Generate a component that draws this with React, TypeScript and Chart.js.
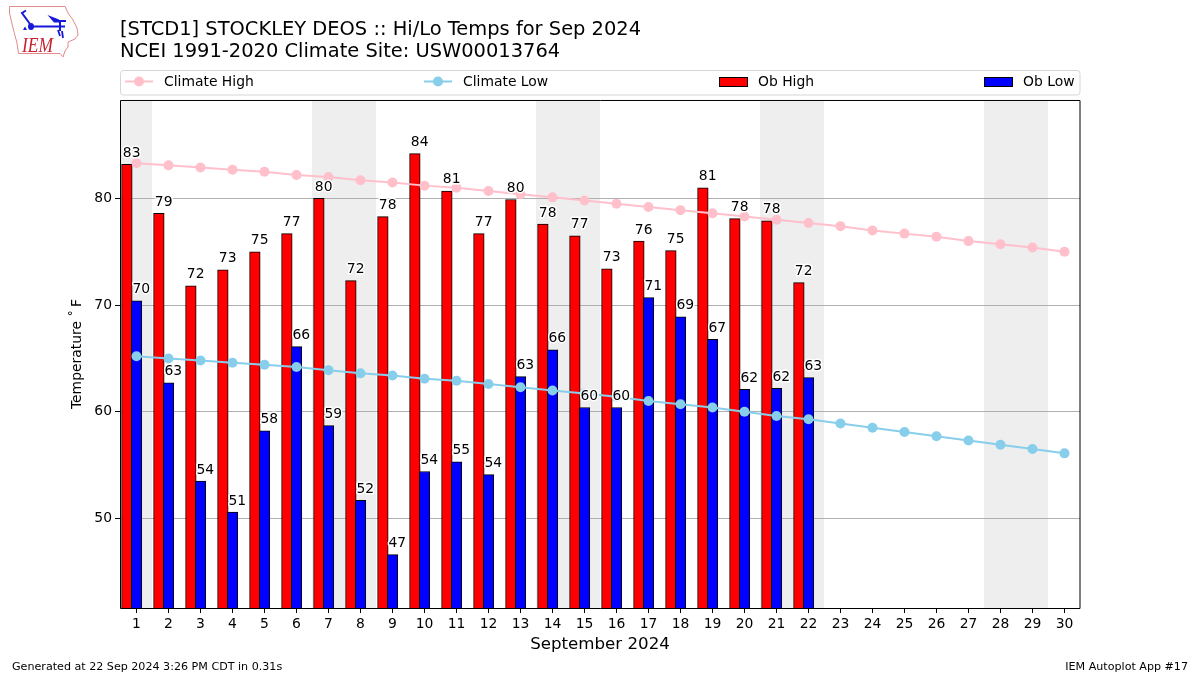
import React, { useEffect, useRef } from "react";
import { Chart, registerables } from "chart.js";

Chart.register(...registerables);

const days = Array.from({ length: 30 }, (_, i) => i + 1);
const obHigh = [83.2, 78.6, 71.8, 73.3, 75, 76.7, 80, 72.3, 78.3, 84.2, 80.7, 76.7, 79.9, 77.6, 76.5, 73.4, 76, 75.1, 81, 78.1, 77.9, 72.1];
const obLow = [70.4, 62.7, 53.5, 50.6, 58.2, 66.1, 58.7, 51.7, 46.6, 54.4, 55.3, 54.1, 63.3, 65.8, 60.4, 60.4, 70.7, 68.9, 66.8, 62.1, 62.2, 63.2];
const climateHigh = [83.3, 83.1, 82.9, 82.7, 82.5, 82.2, 82.0, 81.7, 81.5, 81.2, 81.0, 80.7, 80.4, 80.1, 79.8, 79.5, 79.2, 78.9, 78.6, 78.3, 78.0, 77.7, 77.4, 77.0, 76.7, 76.4, 76.0, 75.7, 75.4, 75.0];
const climateLow = [65.2, 65.0, 64.8, 64.6, 64.4, 64.2, 63.9, 63.6, 63.4, 63.1, 62.9, 62.6, 62.3, 62.0, 61.7, 61.4, 61.0, 60.7, 60.4, 60.0, 59.6, 59.3, 58.9, 58.5, 58.1, 57.7, 57.3, 56.9, 56.5, 56.1];
const yTicks = [50, 60, 70, 80];
const weekendBands = [[0.5, 1.5], [6.5, 8.5], [13.5, 15.5], [20.5, 22.5], [27.5, 29.5]];
const titleLines = ["[STCD1] STOCKLEY DEOS :: Hi/Lo Temps for Sep 2024", "NCEI 1991-2020 Climate Site: USW00013764"];
const xTitle = "September 2024";
const yTitle = "Temperature ˚\u2009F";
const footerLeft = "Generated at 22 Sep 2024 3:26 PM CDT in 0.31s";
const footerRight = "IEM Autoplot App #17";

const FONT = "'DejaVu Sans'";
const HIGH_OFFSET = -0.3;
const LOW_OFFSET = 0;
const LABEL_SHIFT = 0.15;

const bandsPlugin = {
  id: "bands",
  beforeDatasetsDraw(chart: any) {
    const { ctx, chartArea: a, scales: { x } } = chart;
    ctx.save();
    ctx.fillStyle = "#eeeeee";
    weekendBands.forEach(([s, e]) => {
      const l = Math.floor(x.getPixelForValue(s));
      ctx.fillRect(l, a.top, Math.floor(x.getPixelForValue(e)) - l, a.bottom - a.top);
    });
    ctx.restore();
  },
};

const gridPlugin = {
  id: "gridOverBars",
  beforeDatasetDraw(chart: any, args: any) {
    if (args.index !== 0) return;
    const { ctx, chartArea: a, scales: { y } } = chart;
    ctx.save();
    ctx.strokeStyle = "#b0b0b0";
    ctx.lineWidth = 1;
    yTicks.forEach((t) => {
      const p = Math.floor(y.getPixelForValue(t)) + 0.5;
      ctx.beginPath();
      ctx.moveTo(a.left, p);
      ctx.lineTo(a.right, p);
      ctx.stroke();
    });
    ctx.restore();
  },
};

const labelsPlugin = {
  id: "valueLabels",
  afterDatasetsDraw(chart: any) {
    const { ctx, chartArea: a, scales: { x, y } } = chart;
    ctx.save();
    ctx.font = `13.9px ${FONT}`;
    ctx.textAlign = "center";
    ctx.textBaseline = "alphabetic";
    ctx.lineJoin = "round";
    const draw = (vals: number[], shift: number) => {
      vals.forEach((v, i) => {
        const px = x.getPixelForValue(days[i] + shift);
        const py = y.getPixelForValue(v) - 7.5;
        const s = String(Math.round(v));
        ctx.strokeStyle = "#ffffff";
        ctx.lineWidth = 3;
        ctx.strokeText(s, px, py);
        ctx.fillStyle = "#000000";
        ctx.fillText(s, px, py);
      });
    };
    draw(obHigh, -LABEL_SHIFT);
    draw(obLow, LABEL_SHIFT);
    ctx.strokeStyle = "#000000";
    ctx.lineWidth = 1;
    ctx.strokeRect(a.left + 0.5, a.top + 0.5, a.right - a.left - 0.5, a.bottom - a.top);
    ctx.restore();
  },
};

const legendPlugin = {
  id: "expandedLegend",
  afterDraw(chart: any) {
    const { ctx } = chart;
    const ds = chart.data.datasets;
    ctx.save();
    ctx.strokeStyle = "#d5d5d5";
    ctx.lineWidth = 1;
    ctx.beginPath();
    ctx.roundRect(120.5, 70.5, 959.5, 24.5, 3);
    ctx.stroke();
    ctx.font = `13.9px ${FONT}`;
    ctx.textAlign = "left";
    ctx.textBaseline = "alphabetic";
    const entries = [
      { idx: 2, x: 125 },
      { idx: 3, x: 424 },
      { idx: 0, x: 719 },
      { idx: 1, x: 984 },
    ];
    entries.forEach(({ idx, x }) => {
      const d = ds[idx];
      if (d.type === "line") {
        ctx.strokeStyle = d.borderColor;
        ctx.lineWidth = 2;
        ctx.beginPath();
        ctx.moveTo(x, 81.5);
        ctx.lineTo(x + 28, 81.5);
        ctx.stroke();
        ctx.fillStyle = d.borderColor;
        ctx.beginPath();
        ctx.arc(x + 14, 81.5, 5, 0, Math.PI * 2);
        ctx.fill();
      } else {
        ctx.fillStyle = d.backgroundColor;
        ctx.fillRect(x + 0.5, 77.5, 28, 9);
        ctx.strokeStyle = "#000000";
        ctx.lineWidth = 1;
        ctx.strokeRect(x + 0.5, 77.5, 28, 9);
      }
      ctx.fillStyle = "#000000";
      ctx.fillText(d.label, x + 39, 86);
    });
    ctx.restore();
  },
};

export default function App() {
  const ref = useRef<HTMLCanvasElement>(null);
  useEffect(() => {
    const chart = new Chart(ref.current as HTMLCanvasElement, {
      type: "bar",
      data: {
        datasets: [
          {
            type: "bar",
            label: "Ob High",
            data: obHigh.map((v, i) => ({ x: days[i] + HIGH_OFFSET, y: v })),
            backgroundColor: "#ff0000",
            borderColor: "#000000",
            borderWidth: 1,
            borderSkipped: "bottom",
            barThickness: 10.6,
            grouped: false,
            order: 4,
          },
          {
            type: "bar",
            label: "Ob Low",
            data: obLow.map((v, i) => ({ x: days[i] + LOW_OFFSET, y: v })),
            backgroundColor: "#0000ff",
            borderColor: "#000000",
            borderWidth: 1,
            borderSkipped: "bottom",
            barThickness: 10.6,
            grouped: false,
            order: 3,
          },
          {
            type: "line",
            label: "Climate High",
            data: climateHigh.map((v, i) => ({ x: days[i], y: v })),
            borderColor: "#ffc0cb",
            backgroundColor: "#ffc0cb",
            borderWidth: 2,
            pointRadius: 5,
            pointBorderWidth: 0,
            tension: 0,
            order: 2,
          },
          {
            type: "line",
            label: "Climate Low",
            data: climateLow.map((v, i) => ({ x: days[i], y: v })),
            borderColor: "#87ceeb",
            backgroundColor: "#87ceeb",
            borderWidth: 2,
            pointRadius: 5,
            pointBorderWidth: 0,
            tension: 0,
            order: 1,
          },
        ],
      } as any,
      options: {
        responsive: false,
        animation: false,
        layout: { padding: { left: 0, right: 120, top: 0, bottom: 0 } },
        plugins: {
          legend: { display: false },
          tooltip: { enabled: false },
          title: {
            display: true,
            text: titleLines,
            align: "start",
            fullSize: false,
            color: "#000000",
            font: { family: FONT, size: 19.46, weight: "normal", lineHeight: 1.13 },
            padding: { top: 19, bottom: 37 },
          },
        },
        scales: {
          x: {
            type: "linear",
            min: 0.485,
            max: 30.485,
            offset: false,
            afterBuildTicks: (s: any) => {
              s.ticks = days.map((d) => ({ value: d }));
            },
            afterFit: (s: any) => {
              s.height = 67;
            },
            ticks: { autoSkip: false, maxRotation: 0, color: "#000000", font: { family: FONT, size: 13.9 }, padding: 3, callback: (v: any) => String(v) },
            grid: { offset: false, drawOnChartArea: false, drawTicks: true, tickLength: 5, tickColor: "#000000", tickWidth: 1 },
            border: { display: false },
            title: { display: true, text: xTitle, color: "#000000", font: { family: FONT, size: 16.67 }, padding: { top: 0, bottom: 20 } },
          },
          y: {
            type: "linear",
            min: 41.6,
            max: 89.23,
            afterBuildTicks: (s: any) => {
              s.ticks = yTicks.map((d) => ({ value: d }));
            },
            afterFit: (s: any) => {
              s.width = 120;
            },
            ticks: { color: "#000000", font: { family: FONT, size: 13.9 }, padding: 3 },
            grid: { drawOnChartArea: false, drawTicks: true, tickLength: 5, tickColor: "#000000", tickWidth: 1 },
            border: { display: false },
            title: { display: true, text: yTitle, color: "#000000", font: { family: FONT, size: 13.9 }, padding: { top: 69, bottom: 0 } },
          },
        },
      } as any,
      plugins: [bandsPlugin, gridPlugin, labelsPlugin, legendPlugin],
    });
    return () => chart.destroy();
  }, []);

  const foot: React.CSSProperties = { position: "absolute", top: 659.5, font: `11.12px ${FONT}`, lineHeight: "14px", color: "#000", whiteSpace: "nowrap" };
  return (
    <div style={{ position: "fixed", left: 0, top: 0, width: 1200, height: 675, background: "#fff", overflow: "hidden" }}>
      <canvas ref={ref} width={1200} height={675} style={{ position: "absolute", left: 0, top: 0 }} />
      <svg width={90} height={65} style={{ position: "absolute", left: 0, top: 0 }}>
        <path d="M9.5 6.5 L65 6.5 L68 13 L73 20 L77 28 L78 35 L75 39 L68 42 L68 47 L65 51 L63 57 L60 53.5 L18.5 53.5 L17 43 L13 28 L9.5 13 Z" fill="none" stroke="#e08a8a" strokeWidth={1} />
        <path d="M31 26.5 L65 26.5 M60 21 L60 31 M58 21 L66 21 M30 24 L22 13 L26 10.5" fill="none" stroke="#1818d8" strokeWidth={2} />
        <path d="M47.5 15 L59 19.5 L59 22.5 L54 22.5 Z" fill="#1818d8" />
        <ellipse cx={31} cy={26.5} rx={3} ry={3.6} fill="#1818d8" />
        <path d="M58 30 L60 36 M62 31 L63 38" fill="none" stroke="#1818d8" strokeWidth={1.8} />
        <path d="M23 30 L25 26.5 L27 30 Z" fill="#1818d8" />
        <text x={22} y={52} fontFamily="'Liberation Serif'" fontStyle="italic" fontSize={22} textLength={31} lengthAdjust="spacingAndGlyphs" fill="#c8202f">IEM</text>
      </svg>
      <div style={{ ...foot, left: 12 }}>{footerLeft}</div>
      <div style={{ ...foot, right: 12 }}>{footerRight}</div>
    </div>
  );
}
